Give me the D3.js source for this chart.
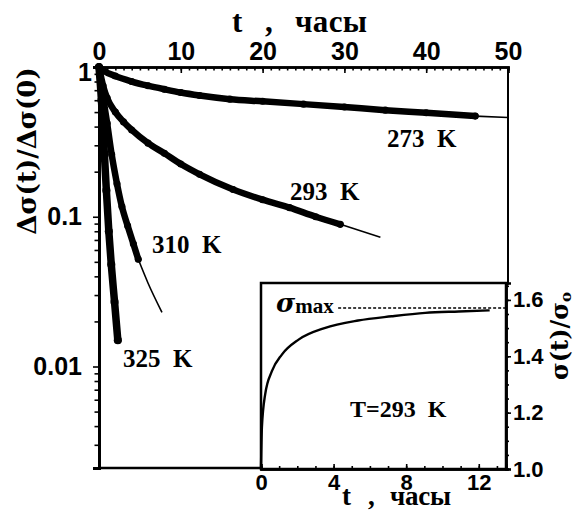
<!DOCTYPE html>
<html>
<head>
<meta charset="utf-8">
<script src="https://cdn.jsdelivr.net/npm/d3@7"></script>
<style>
	body { margin: 0; background: #fff; }
	svg { font-family: "Liberation Serif", serif; font-weight: bold; }
	text { white-space: pre; }
</style>
</head>
<body>
<div id="chart"></div>
<script>
(function() {
	"use strict";

	// main plot: relaxation curves, t in hours, dense measured part + thin fit tail
	var t273 = [0, 0.5, 2, 4, 6, 8, 10, 12.3, 16, 20, 25, 30, 35, 40, 46];
	var v273 = [1, 0.95, 0.87, 0.80, 0.75, 0.71, 0.675, 0.645, 0.61, 0.59, 0.565, 0.54, 0.515, 0.495, 0.47];
	var t273tail = [46, 50];
	var v273tail = [0.47, 0.46];

	var t293 = [0, 0.5, 1, 2, 3, 4, 6, 8, 10, 12.3, 16.4, 20, 23.3, 26.5, 29.5];
	var v293 = [1, 0.75, 0.62, 0.5, 0.43, 0.38, 0.31, 0.265, 0.225, 0.192, 0.152, 0.13, 0.115, 0.1, 0.089];
	var t293tail = [29.5, 34.4];
	var v293tail = [0.089, 0.073];

	var t310 = [0, 0.5, 1.0, 1.55, 2.2, 2.8, 3.5, 4.2, 4.8];
	var v310 = [1, 0.63, 0.42, 0.26, 0.166, 0.117, 0.087, 0.066, 0.052];
	var t310tail = [4.8, 6, 7.7];
	var v310tail = [0.052, 0.036, 0.023];

	var t325 = [0, 0.3, 0.6, 0.9, 1.2, 1.5, 1.9, 2.3];
	var v325 = [1, 0.6, 0.3, 0.15, 0.08, 0.048, 0.027, 0.015];

	var seriesLabels = ['273  K', '293  K', '310  K', '325  K'];

	// inset: sigma(t)/sigma0 at T = 293 K
	var tInset = [0, 0.05, 0.23, 0.6, 1.15, 2.07, 3.5, 5.35, 7.2, 9.05, 10.9, 12.6];
	var vInset = [1.0, 1.148, 1.265, 1.347, 1.406, 1.459, 1.50, 1.527, 1.542, 1.554, 1.559, 1.563];
	var sigmaMax = 1.571;

	var mainTicksX = [0, 10, 20, 30, 40, 50];
	var mainTicksY = [1, 0.1, 0.01];
	var insetTicksX = [0, 4, 8, 12];
	var insetTicksY = [1.0, 1.2, 1.4, 1.6];

	var svg = d3.select('#chart')
		.append('svg')
		.attr('width', 578)
		.attr('height', 515);

	var x = d3.scaleLinear().domain([0, 50]).range([99, 508]);
	var y = d3.scaleLog().domain([0.0021, 1]).range([468, 67]);
	var xi = d3.scaleLinear().domain([0, 13.5]).range([261, 506]);
	var yi = d3.scaleLinear().domain([1, 1.66]).range([469, 283]);

	function zip(ts, vs) {
		return ts.map(function (t, i) { return [t, vs[i]]; });
	}

	function styleAxis(g, size) {
		g.selectAll('.domain').attr('stroke-width', 2.5);
		g.selectAll('.tick line').attr('stroke-width', 1.6);
		g.selectAll('text').attr('font-size', size).attr('font-family', null).attr('fill', '#000');
	}

	// ---- main frame and axes
	svg.append('g')
		.attr('transform', 'translate(0,67)')
		.call(d3.axisTop(x).tickValues(d3.range(0, 51, 1)).tickSize(-3.5).tickFormat(''))
		.call(function (g) { styleAxis(g, 25); });
	svg.append('g')
		.attr('transform', 'translate(0,67)')
		.call(d3.axisTop(x).tickValues(mainTicksX).tickSize(-6).tickPadding(7).tickFormat(d3.format('d')))
		.call(function (g) { styleAxis(g, 25); });

	var minorY = [];
	[0.001, 0.01, 0.1].forEach(function (dec) {
		for (var k = 2; k <= 9; k++) {
			var v = dec * k;
			if (v >= 0.0021 && v < 1) { minorY.push(v); }
		}
	});
	svg.append('g')
		.attr('transform', 'translate(99,0)')
		.call(d3.axisLeft(y).tickValues(minorY).tickSize(4.5).tickFormat(''))
		.call(function (g) { styleAxis(g, 25); g.selectAll('.domain').attr('stroke-width', 3); });
	svg.append('g')
		.attr('transform', 'translate(99,0)')
		.call(d3.axisLeft(y).tickValues(mainTicksY).tickSize(6).tickPadding(11).tickFormat(d3.format('')))
		.call(function (g) {
			styleAxis(g, 25);
			g.selectAll('.domain').attr('stroke-width', 3);
			// the "1" sits tucked in just below the corner
			g.selectAll('.tick text').filter(function (d) { return d === 1; })
				.attr('x', -7).attr('dy', '0.55em');
		});

	// right border down to the inset, bottom line up to the inset
	svg.append('line')
		.attr('x1', x(50)).attr('x2', x(50))
		.attr('y1', y(1)).attr('y2', yi(1.66))
		.attr('stroke', '#000').attr('stroke-width', 2);
	svg.append('line')
		.attr('x1', x(0)).attr('x2', xi(0))
		.attr('y1', y(0.0021)).attr('y2', y(0.0021))
		.attr('stroke', '#000').attr('stroke-width', 2.5);

	// ---- curves
	var line = d3.line()
		.x(function (d) { return x(d[0]); })
		.y(function (d) { return y(d[1]); })
		.curve(d3.curveMonotoneX);

	function drawSeries(ts, vs, tailT, tailV, width) {
		var pts = zip(ts, vs);
		svg.append('path')
			.datum(pts)
			.attr('d', line)
			.attr('fill', 'none')
			.attr('stroke', '#000')
			.attr('stroke-width', width)
			.attr('stroke-linecap', 'round')
			.attr('stroke-linejoin', 'round');
		svg.selectAll(null)
			.data(pts)
			.enter()
			.append('circle')
			.attr('cx', function (d) { return x(d[0]); })
			.attr('cy', function (d) { return y(d[1]); })
			.attr('r', width / 2 + 0.3)
			.attr('fill', '#000');
		if (tailT) {
			svg.append('path')
				.datum(zip(tailT, tailV))
				.attr('d', line)
				.attr('fill', 'none')
				.attr('stroke', '#000')
				.attr('stroke-width', 1.6);
		}
	}

	drawSeries(t273, v273, t273tail, v273tail, 6.5);
	drawSeries(t293, v293, t293tail, v293tail, 6.5);
	drawSeries(t310, v310, t310tail, v310tail, 6.5);
	drawSeries(t325, v325, null, null, 7.5);

	// series labels, placed next to their curves
	var labelPos = [[35.2, 0.292], [23.35, 0.129], [6.48, 0.0572], [2.93, 0.0099]];
	seriesLabels.forEach(function (txt, i) {
		svg.append('text')
			.attr('x', x(labelPos[i][0]))
			.attr('y', y(labelPos[i][1]))
			.attr('font-size', 25)
			.text(txt);
	});

	// ---- inset
	var inset = svg.append('g');
	inset.append('rect')
		.attr('x', xi(0)).attr('y', yi(1.66))
		.attr('width', xi(13.5) - xi(0))
		.attr('height', yi(1) - yi(1.66))
		.attr('fill', '#fff')
		.attr('stroke', '#000')
		.attr('stroke-width', 2.5);

	inset.append('g')
		.attr('transform', 'translate(0,' + yi(1) + ')')
		.call(d3.axisBottom(xi).tickValues(d3.range(0, 14, 1)).tickSize(-3).tickFormat(''))
		.call(function (g) { styleAxis(g, 22); });
	inset.append('g')
		.attr('transform', 'translate(0,' + yi(1) + ')')
		.call(d3.axisBottom(xi).tickValues(insetTicksX).tickSize(-5).tickPadding(5).tickFormat(d3.format('d')))
		.call(function (g) { styleAxis(g, 22); });

	inset.append('g')
		.attr('transform', 'translate(' + xi(13.5) + ',0)')
		.call(d3.axisRight(yi).tickValues(d3.range(1, 1.66, 0.05)).tickSize(3).tickFormat(''))
		.call(function (g) { styleAxis(g, 22); });
	inset.append('g')
		.attr('transform', 'translate(' + xi(13.5) + ',0)')
		.call(d3.axisRight(yi).tickValues(insetTicksY).tickSize(5).tickPadding(2).tickFormat(d3.format('.1f')))
		.call(function (g) { styleAxis(g, 22); });

	inset.append('path')
		.datum(zip(tInset, vInset))
		.attr('d', d3.line()
			.x(function (d) { return xi(d[0]); })
			.y(function (d) { return yi(d[1]); })
			.curve(d3.curveMonotoneX))
		.attr('fill', 'none')
		.attr('stroke', '#000')
		.attr('stroke-width', 2.4);

	inset.append('line')
		.attr('x1', xi(4.25)).attr('x2', xi(13.5))
		.attr('y1', yi(sigmaMax)).attr('y2', yi(sigmaMax))
		.attr('stroke', '#000')
		.attr('stroke-width', 1.5)
		.attr('stroke-dasharray', '3,2');

	var smax = inset.append('text')
		.attr('x', 276)
		.attr('y', 312);
	smax.append('tspan')
		.attr('font-family', 'DejaVu Serif')
		.attr('font-size', 26)
		.attr('font-style', 'italic')
		.text('σ');
	smax.append('tspan')
		.attr('font-size', 21)
		.attr('dy', 1)
		.text('max');

	inset.append('text')
		.attr('x', 350)
		.attr('y', 417)
		.attr('font-size', 24)
		.text('T=293  K');

	// ---- axis titles
	var top = svg.append('text')
		.attr('y', 32)
		.attr('font-size', 31);
	top.append('tspan').attr('x', 232).text('t');
	top.append('tspan').attr('x', 265).text(',');
	top.append('tspan').attr('x', 295).attr('textLength', 72).text('часы');

	var bottom = svg.append('text')
		.attr('y', 505)
		.attr('font-size', 27);
	bottom.append('tspan').attr('x', 342).text('t');
	bottom.append('tspan').attr('x', 368).text(',');
	bottom.append('tspan').attr('x', 390).attr('textLength', 61).text('часы');

	svg.append('text')
		.attr('transform', 'translate(36,151) rotate(-90)')
		.attr('text-anchor', 'middle')
		.attr('font-family', 'DejaVu Serif')
		.attr('font-size', 26)
		.text('Δσ(t)/Δσ(0)');

	var rt = svg.append('text')
		.attr('transform', 'translate(568,336) rotate(-90)')
		.attr('text-anchor', 'middle')
		.attr('font-family', 'DejaVu Serif')
		.attr('font-size', 24);
	rt.append('tspan').text('σ(t)/σ');
	rt.append('tspan').attr('font-size', 15).attr('dy', 3).text('o');
}());
</script>
</body>
</html>
